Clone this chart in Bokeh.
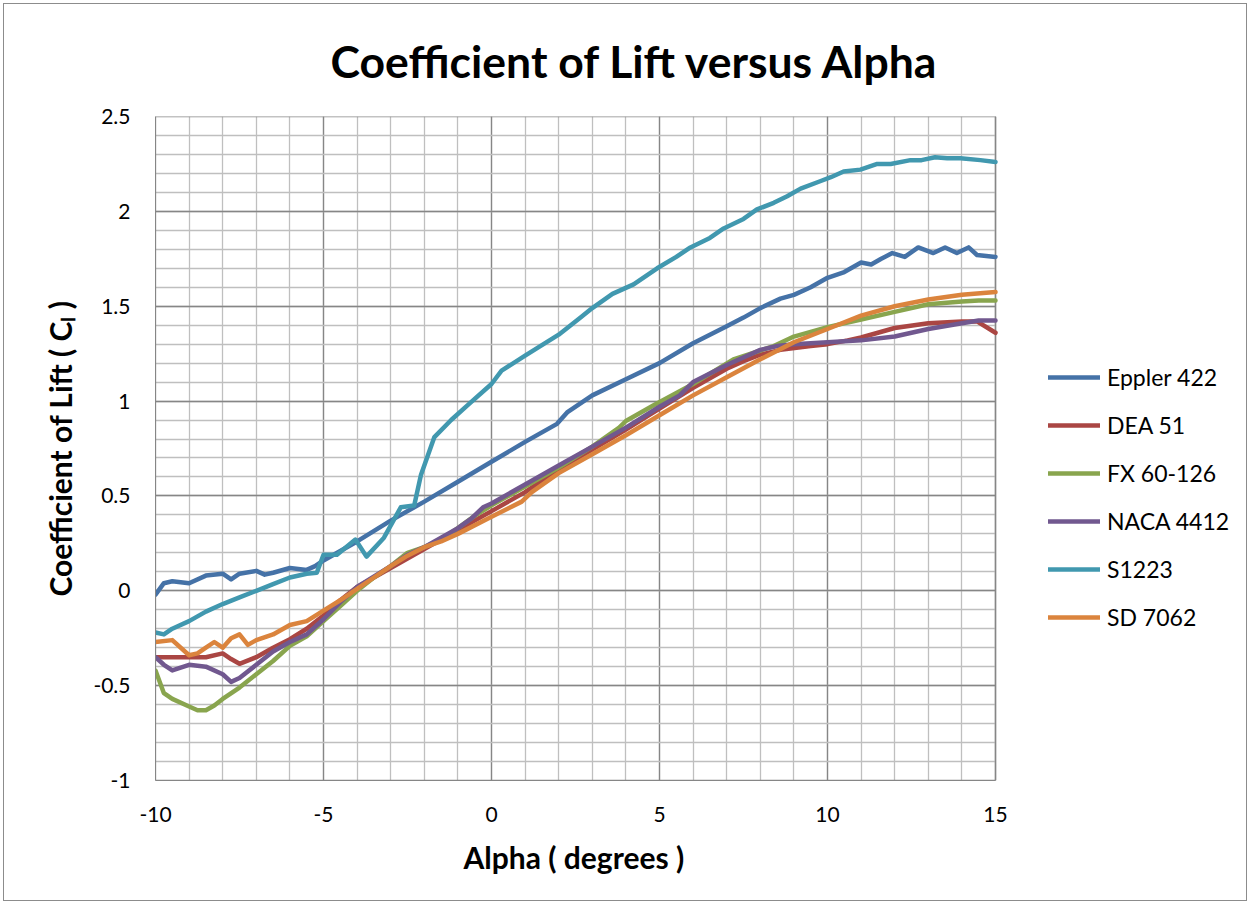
from bokeh.plotting import figure
from bokeh.models import (SingleIntervalTicker, NumeralTickFormatter, PrintfTickFormatter,
                          Legend, LegendItem, Range1d, Title)
from bokeh.embed import file_html
from bokeh.resources import INLINE

# ---------------- data ----------------
eppler_alpha = [-10, -9.75, -9.5, -9, -8.5, -8, -7.75, -7.5, -7, -6.75, -6.5, -6, -5.5, -5.25, -5,
                -4, -3, -2, -1, 0, 1, 1.95, 2.25, 3, 4, 5, 6, 7, 7.5, 8, 8.6, 9, 9.5, 10, 10.5,
                11, 11.3, 11.6, 11.93, 12.3, 12.7, 13.15, 13.5, 13.85, 14.2, 14.45, 15]
eppler_cl = [-0.02, 0.04, 0.05, 0.04, 0.08, 0.09, 0.06, 0.09, 0.105, 0.085, 0.095, 0.12, 0.11, 0.13, 0.16,
             0.26, 0.37, 0.47, 0.575, 0.68, 0.785, 0.88, 0.94, 1.03, 1.115, 1.20, 1.305, 1.395, 1.44, 1.49,
             1.54, 1.56, 1.60, 1.65, 1.68, 1.73, 1.72, 1.75, 1.78, 1.76, 1.81, 1.78, 1.81, 1.78, 1.81, 1.77, 1.76]

dea_alpha = [-10, -9.5, -9, -8.5, -8, -7.75, -7.5, -7, -6.5, -6, -5.5, -5, -4.5, -4, -3, -2, -1, 0, 1,
             2, 3, 4, 5, 6, 7, 7.5, 8, 8.6, 9.5, 10, 10.6, 11, 12, 13, 14, 14.45, 15]
dea_cl = [-0.35, -0.35, -0.35, -0.35, -0.33, -0.36, -0.385, -0.35, -0.30, -0.255, -0.20, -0.13, -0.05, 0.02,
          0.12, 0.22, 0.32, 0.42, 0.52, 0.64, 0.745, 0.85, 0.96, 1.07, 1.17, 1.21, 1.245, 1.27, 1.29, 1.30,
          1.32, 1.335, 1.385, 1.41, 1.42, 1.42, 1.36]

fx_alpha = [-10, -9.75, -9.5, -9, -8.75, -8.5, -8.25, -8, -7.5, -7, -6.5, -6, -5.5, -5, -4.5, -4, -3.5,
            -3, -2.5, -2, -1.5, -1, -0.5, 0, 1, 2, 3, 3.8, 4.0, 4.8, 6, 7.2, 8.4, 9, 10, 11, 12, 13,
            14, 14.5, 15]
fx_cl = [-0.42, -0.54, -0.57, -0.61, -0.63, -0.63, -0.605, -0.57, -0.51, -0.44, -0.37, -0.29, -0.24, -0.16,
         -0.08, 0.0, 0.07, 0.13, 0.20, 0.23, 0.27, 0.33, 0.395, 0.45, 0.55, 0.65, 0.76, 0.86, 0.895, 0.975,
         1.09, 1.22, 1.29, 1.34, 1.39, 1.43, 1.47, 1.51, 1.525, 1.53, 1.53]

naca_alpha = [-10, -9.75, -9.5, -9, -8.5, -8, -7.75, -7.5, -7, -6.5, -6, -5.5, -5, -4.5, -4, -3, -2.5,
              -2, -1.5, -1, -0.6, -0.25, 0, 1, 2, 3, 4, 5, 5.6, 6, 7, 8, 8.5, 9, 10, 11, 12, 13, 14,
              14.5, 15]
naca_cl = [-0.35, -0.39, -0.42, -0.39, -0.40, -0.44, -0.48, -0.46, -0.39, -0.32, -0.27, -0.23, -0.15, -0.06,
           0.02, 0.13, 0.19, 0.23, 0.28, 0.33, 0.38, 0.44, 0.46, 0.56, 0.66, 0.76, 0.86, 0.97, 1.03, 1.10,
           1.19, 1.27, 1.29, 1.30, 1.31, 1.32, 1.34, 1.38, 1.41, 1.425, 1.425]

s1223_alpha = [-10, -9.75, -9.5, -9, -8.5, -8, -7.5, -7, -6.5, -6, -5.5, -5.2, -5, -4.6, -4.05, -3.72,
               -3.2, -2.7, -2.3, -2.1, -1.7, -1.2, -0.7, 0, 0.3, 1, 2, 2.65, 3.0, 3.6, 4.23, 4.93, 5.5,
               5.92, 6.5, 6.91, 7.5, 7.9, 8.4, 8.8, 9.2, 9.8, 10.1, 10.48, 10.98, 11.48, 11.88, 12.47,
               12.8, 13.2, 13.56, 13.96, 14.55, 15]
s1223_cl = [-0.22, -0.23, -0.20, -0.16, -0.11, -0.07, -0.035, 0.0, 0.035, 0.07, 0.09, 0.095, 0.19, 0.19,
            0.27, 0.18, 0.28, 0.44, 0.45, 0.61, 0.81, 0.90, 0.98, 1.09, 1.16, 1.24, 1.35, 1.44, 1.49,
            1.565, 1.615, 1.70, 1.76, 1.81, 1.86, 1.91, 1.96, 2.01, 2.045, 2.08, 2.12, 2.16, 2.18, 2.21,
            2.22, 2.25, 2.25, 2.27, 2.27, 2.285, 2.28, 2.28, 2.27, 2.26]

sd_alpha = [-10, -9.5, -9, -8.75, -8.5, -8.25, -8, -7.75, -7.5, -7.25, -7, -6.5, -6, -5.5, -5, -4.5, -4,
            -3.5, -3, -2.5, -2, -1.5, -1, 0, 0.9, 1.2, 2, 3, 4, 5, 6, 7, 8, 9, 10, 11, 12, 13, 14, 15]
sd_cl = [-0.27, -0.26, -0.34, -0.33, -0.30, -0.27, -0.30, -0.25, -0.23, -0.285, -0.26, -0.23, -0.18, -0.16,
         -0.105, -0.05, 0.01, 0.07, 0.13, 0.185, 0.23, 0.26, 0.30, 0.39, 0.47, 0.52, 0.62, 0.72, 0.82, 0.925,
         1.03, 1.125, 1.22, 1.31, 1.38, 1.45, 1.50, 1.535, 1.56, 1.575]

series_names = ["Eppler 422", "DEA 51", "FX 60-126", "NACA 4412", "S1223", "SD 7062"]
series_colors = ["#4572A7", "#AA4643", "#89A54E", "#71588F", "#4198AF", "#DB843D"]
series_data = [(eppler_alpha, eppler_cl), (dea_alpha, dea_cl), (fx_alpha, fx_cl),
               (naca_alpha, naca_cl), (s1223_alpha, s1223_cl), (sd_alpha, sd_cl)]

X_MIN, X_MAX = -10, 15
Y_MIN, Y_MAX = -1, 2.5

FONT = "Lato"
W, H = 1244, 898
LEFT, TOP, BOTTOM = 151, 112, 122
AREA_W = 840                     # pixel width of the plotting area (alpha -10 .. 15)
frame_w = W - LEFT               # frame runs to the right edge, legend sits in it
x_end = X_MIN + (X_MAX - X_MIN) * frame_w / AREA_W

p = figure(width=W, height=H, output_backend="svg", toolbar_location=None,
           x_range=Range1d(X_MIN, x_end), y_range=Range1d(Y_MIN, Y_MAX),
           min_border_left=LEFT, min_border_right=0, min_border_top=TOP, min_border_bottom=BOTTOM,
           title="Coefficient of Lift versus Alpha")
p.styles = {"border": "1px solid #8c8c8c", "margin-left": "3px", "margin-top": "3px"}
p.background_fill_color = "white"
p.border_fill_color = "white"
p.outline_line_color = None

p.title.align = "left"
p.title.offset = 175
p.title.vertical_align = "top"
p.title.standoff = 55
p.title.text_font = FONT
p.title.text_font_style = "bold"
p.title.text_font_size = "44.5px"
p.title.text_color = "black"

p.xaxis.ticker = SingleIntervalTicker(interval=5, num_minor_ticks=5)
p.yaxis.ticker = SingleIntervalTicker(interval=0.5, num_minor_ticks=5)
p.xaxis.formatter = PrintfTickFormatter(format="%d")
p.yaxis.formatter = NumeralTickFormatter(format="0.[0]")
p.xaxis.bounds = (X_MIN, X_MAX)
p.xgrid.bounds = (X_MIN, X_MAX)
p.ygrid.cross_bounds = (X_MIN, X_MAX)

for g in (p.xgrid, p.ygrid):
    g.grid_line_color = "#868686"
    g.grid_line_width = 1.3
    g.minor_grid_line_color = "#BFBFBF"
    g.minor_grid_line_width = 1.3

for ax in (p.xaxis, p.yaxis):
    ax.axis_line_color = "#868686"
    ax.major_tick_line_color = None
    ax.minor_tick_line_color = None
    ax.major_tick_out = 0
    ax.minor_tick_out = 0
    ax.major_label_text_font = FONT
    ax.major_label_text_font_size = "21px"
    ax.major_label_text_color = "black"
    ax.axis_label_text_font = FONT
    ax.axis_label_text_font_style = "bold"
    ax.axis_label_text_font_size = "30px"
    ax.axis_label_text_color = "black"

p.xaxis.major_label_standoff = 26
p.yaxis.axis_label = "Coefficient of Lift ( C\u2097 )"
p.yaxis.major_label_standoff = 25
p.yaxis.axis_label_standoff = 12

# x-axis title centred under the plotting area (not under the wider frame)
x_title = Title(text="Alpha ( degrees )", align="left", offset=308, standoff=24,
                text_font=FONT, text_font_style="bold", text_font_size="30px", text_color="black")
p.add_layout(x_title, "below")

# plot-area border (the frame itself extends right to hold the legend)
p.quad(left=[X_MIN], right=[X_MAX], bottom=[Y_MIN], top=[Y_MAX], fill_color=None,
       line_color="#868686", line_width=1.3)

items = []
for name, color, (a, c) in zip(series_names, series_colors, series_data):
    r = p.line(a, c, line_color=color, line_width=4.5, line_join="round", line_cap="round")
    items.append(LegendItem(label=name, renderers=[r]))

legend = Legend(items=items, location=(893, 149), padding=0, margin=0,
                border_line_color=None, background_fill_alpha=0,
                glyph_width=52, glyph_height=24, label_height=24, spacing=20,
                label_standoff=7, label_text_font=FONT, label_text_font_size="23px",
                label_text_color="black", label_text_baseline="middle")
p.add_layout(legend)

open("out.html", "w").write(file_html(p, INLINE))
